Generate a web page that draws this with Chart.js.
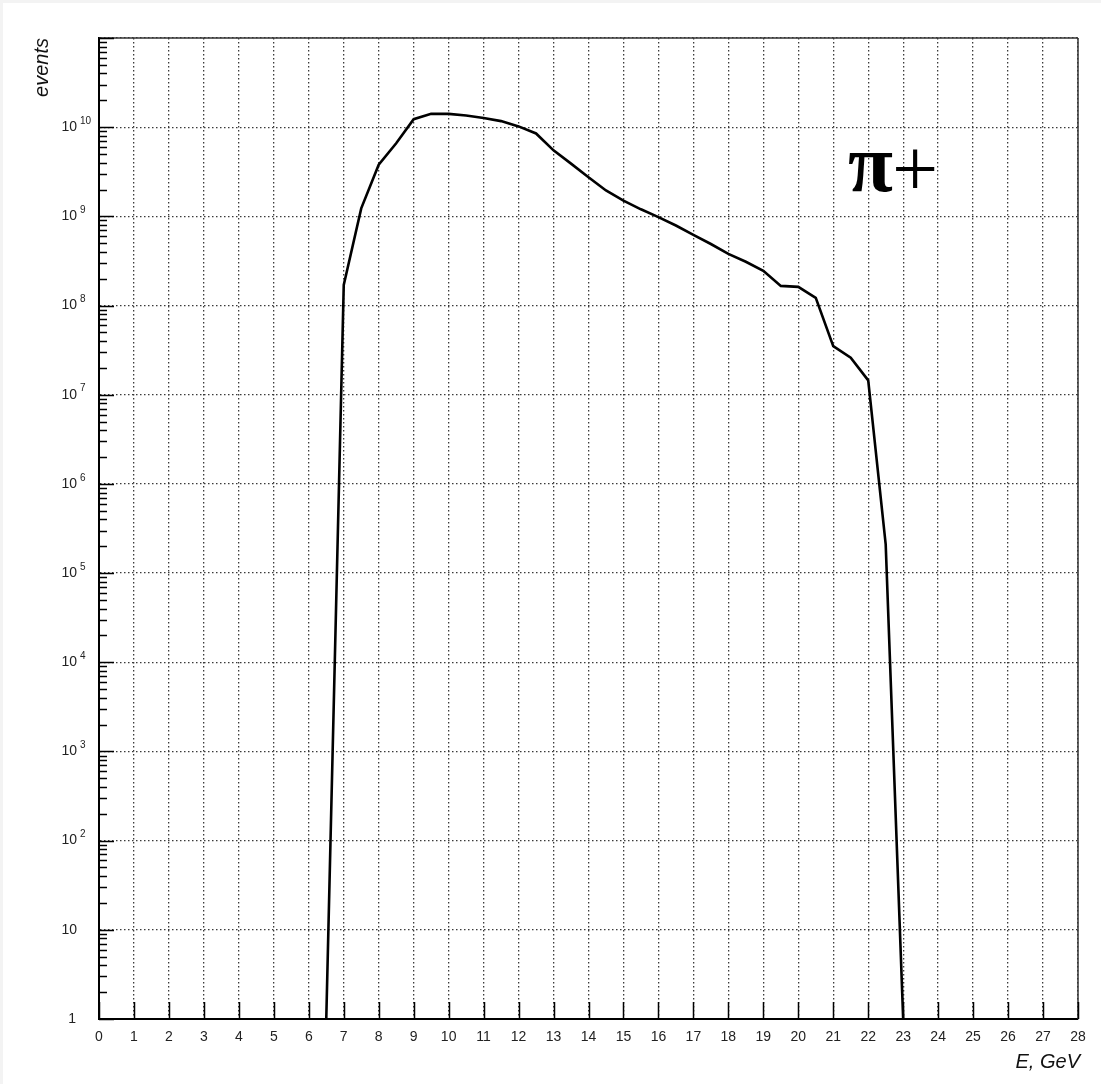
<!DOCTYPE html>
<html>
<head>
<meta charset="utf-8">
<title>pi+ energy spectrum</title>
<script src="https://cdn.jsdelivr.net/npm/chart.js@4.4.1/dist/chart.umd.min.js"></script>
<style>
  html, body { margin: 0; padding: 0; background: #f3f3f3; }
  canvas { display: block; }
</style>
</head>
<body>
<canvas id="spectrum" width="1101" height="1084"></canvas>
<script>
// pi+ spectrum, 0.5 GeV bins
const energies = [6.5, 7, 7.5, 8, 8.5, 9, 9.5, 10, 10.5, 11, 11.5, 12, 12.5, 13, 13.5, 14, 14.5,
                  15, 15.5, 16, 16.5, 17, 17.5, 18, 18.5, 19, 19.5, 20, 20.5, 21, 21.5, 22, 22.5, 23];
const events = [1, 1.7e8, 1.23e9, 3.8e9, 6.6e9, 1.23e10, 1.41e10, 1.41e10, 1.35e10, 1.27e10, 1.17e10, 1.02e10,
                8.5e9, 5.5e9, 3.9e9, 2.75e9, 1.95e9, 1.5e9, 1.2e9, 9.8e8, 7.9e8, 6.2e8, 4.9e8, 3.8e8,
                3.1e8, 2.45e8, 1.66e8, 1.62e8, 1.22e8, 3.5e7, 2.6e7, 1.45e7, 2.1e5, 1];

// axes
const xTicks = Array.from({ length: 29 }, (_, i) => i);   // 0 .. 28 GeV
const yDecades = [1, 1e1, 1e2, 1e3, 1e4, 1e5, 1e6, 1e7, 1e8, 1e9, 1e10, 1e11];
const yTickBase = ['1', '10', '10', '10', '10', '10', '10', '10', '10', '10', '10'];
const yTickExp = ['', '', '2', '3', '4', '5', '6', '7', '8', '9', '10'];

const sans = '"Liberation Sans", Arial, Helvetica, sans-serif';
const serif = '"Liberation Serif", "Times New Roman", serif';

function seg(ctx, x1, y1, x2, y2) {
    ctx.beginPath();
    ctx.moveTo(x1, y1);
    ctx.lineTo(x2, y2);
    ctx.stroke();
}

// ROOT-like frame: inner ticks, superscript labels, titles
const rootFrame = {
    id: 'rootFrame',
    beforeDraw(chart) {
        const ctx = chart.ctx;
        ctx.save();
        ctx.fillStyle = '#f3f3f3';
        ctx.fillRect(0, 0, chart.width, chart.height);
        ctx.fillStyle = '#ffffff';
        ctx.fillRect(3, 3, chart.width - 3, chart.height - 3);
        ctx.restore();
    },
    afterDraw(chart) {
        const ctx = chart.ctx;
        const a = chart.chartArea;
        const xs = chart.scales.x;
        const ys = chart.scales.y;
        ctx.save();

        // top and right edges of the frame
        ctx.strokeStyle = '#333';
        ctx.lineWidth = 1.5;
        seg(ctx, a.left, a.top, a.right, a.top);
        seg(ctx, a.right, a.top, a.right, a.bottom);

        // ticks pointing into the plot
        ctx.strokeStyle = '#000';
        ctx.lineWidth = 1.5;
        xTicks.forEach(v => {
            const px = Math.round(xs.getPixelForValue(v)) + 0.5;
            seg(ctx, px, a.bottom, px, a.bottom - 17);
        });
        yDecades.forEach(d => {
            const py = Math.round(ys.getPixelForValue(d)) + 0.5;
            seg(ctx, a.left, py, a.left + 15, py);
            for (let k = 2; k <= 9; k++) {
                if (d * k > ys.max) break;
                const pm = Math.round(ys.getPixelForValue(d * k)) + 0.5;
                seg(ctx, a.left, pm, a.left + 8, pm);
            }
        });

        // y labels as 10 with exponent
        ctx.fillStyle = '#222';
        ctx.textBaseline = 'middle';
        yTickBase.forEach((base, i) => {
            const py = ys.getPixelForValue(yDecades[i]);
            ctx.font = '14px ' + sans;
            ctx.textAlign = 'right';
            ctx.fillText(base, base === '1' ? 76 : 77, py);
            if (yTickExp[i]) {
                ctx.font = '10px ' + sans;
                ctx.textAlign = 'left';
                ctx.fillText(yTickExp[i], 80, py - 6);
            }
        });

        // axis titles
        ctx.fillStyle = '#111';
        ctx.font = 'italic 20px ' + sans;
        ctx.textBaseline = 'alphabetic';
        ctx.textAlign = 'right';
        ctx.fillText('E, GeV', 1080, 1068);
        ctx.save();
        ctx.translate(48, 38);
        ctx.rotate(-Math.PI / 2);
        ctx.fillText('events', 0, 0);
        ctx.restore();

        // particle label
        ctx.fillStyle = '#000';
        ctx.textAlign = 'left';
        ctx.font = 'bold 82px ' + serif;
        ctx.fillText('\u03c0', 848, 191);
        ctx.font = '82px ' + serif;
        ctx.fillText('+', 892, 196);

        ctx.restore();
    }
};

const ctx = document.getElementById('spectrum');
new Chart(ctx, {
    type: 'line',
    data: {
        datasets: [{
            data: energies.map((e, i) => ({ x: e, y: events[i] })),
            borderColor: '#000',
            borderWidth: 2.6,
            pointRadius: 0,
            tension: 0,
            fill: false
        }]
    },
    options: {
        responsive: false,
        animation: false,
        layout: { padding: { top: 38, right: 23, left: 0, bottom: 0 } },
        plugins: {
            legend: { display: false },
            tooltip: { enabled: false }
        },
        scales: {
            x: {
                type: 'linear',
                min: 0,
                max: 28,
                afterBuildTicks: s => { s.ticks = xTicks.map(v => ({ value: v })); },
                afterFit: s => { s.height = 65; },
                grid: { color: '#3a3a3a', lineWidth: 1.3, drawTicks: false },
                border: { display: true, color: '#000', width: 2, dash: [1.5, 2.5] },
                ticks: {
                    color: '#222',
                    font: { family: sans, size: 14 },
                    padding: 10,
                    maxRotation: 0,
                    autoSkip: false
                }
            },
            y: {
                type: 'logarithmic',
                min: 1,
                max: 1e11,
                afterBuildTicks: s => { s.ticks = yDecades.map(v => ({ value: v })); },
                afterFit: s => { s.width = 99; },
                grid: { color: '#3a3a3a', lineWidth: 1.3, drawTicks: false },
                border: { display: true, color: '#000', width: 2, dash: [1.5, 2.5] },
                ticks: { display: false }
            }
        }
    },
    plugins: [rootFrame]
});
</script>
</body>
</html>
